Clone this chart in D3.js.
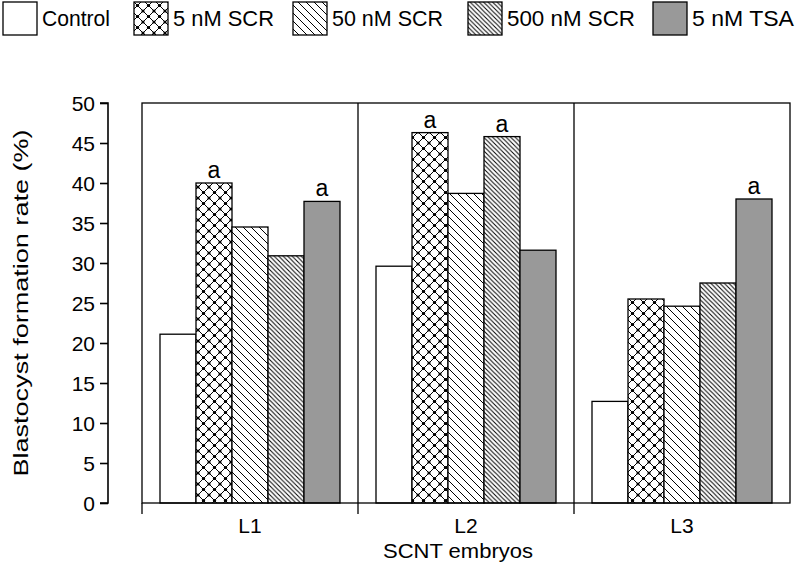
<!DOCTYPE html>
<html><head><meta charset="utf-8">
<script src="https://cdn.jsdelivr.net/npm/d3@7"></script>
<style>body{margin:0;background:#fff}svg{display:block}text{font-family:Arial,"Liberation Sans",sans-serif;fill:#000}</style>
</head><body><svg id="c" width="796" height="578"></svg>
<script>
const groups = ["L1","L2","L3"];
const series = ["Control","5 nM SCR","50 nM SCR","500 nM SCR","5 nM TSA"];
const valuesControl = [21.1, 29.6, 12.7];
const values5SCR   = [40.0, 46.3, 25.5];
const values50SCR  = [34.5, 38.7, 24.6];
const values500SCR = [30.9, 45.8, 27.5];
const valuesTSA    = [37.7, 31.6, 38.0];
const sigLabels = [["","a","","","a"],["","a","","a",""],["","","","","a"]];
const yTicks = [0,5,10,15,20,25,30,35,40,45,50];
const allValues = [valuesControl, values5SCR, values50SCR, values500SCR, valuesTSA];

(function(){
const svg = d3.select("#c");
const defs = svg.append("defs");
const p1 = defs.append("pattern").attr("id","pCross").attr("patternUnits","userSpaceOnUse").attr("width",11).attr("height",11);
p1.append("rect").attr("width",11).attr("height",11).attr("fill","#fff");
p1.append("path").attr("d","M0,0L11,11M11,0L0,11").attr("stroke","#000").attr("stroke-width",1);
[[0,0],[11,0],[0,11],[11,11],[5.5,5.5]].forEach(c=>p1.append("circle").attr("cx",c[0]).attr("cy",c[1]).attr("r",1.6).attr("fill","#000"));
const p2 = defs.append("pattern").attr("id","pDiag").attr("patternUnits","userSpaceOnUse").attr("width",8).attr("height",8);
p2.append("rect").attr("width",8).attr("height",8).attr("fill","#fff");
p2.append("path").attr("d","M-2,-2L10,10M-2,6L2,10M6,-2L10,2").attr("stroke","#000").attr("stroke-width",1);
const p3 = defs.append("pattern").attr("id","pDense").attr("patternUnits","userSpaceOnUse").attr("width",4.5).attr("height",4.5);
p3.append("rect").attr("width",4.5).attr("height",4.5).attr("fill","#fff");
p3.append("path").attr("d","M-1,-1L5.5,5.5M-1,3.5L1,5.5M3.5,-1L5.5,1").attr("stroke","#000").attr("stroke-width",1);
const fills = ["#fff","url(#pCross)","url(#pDiag)","url(#pDense)","#999"];

const L=142, R=790, T=103, B=503;
const y = d3.scaleLinear().domain([0,50]).range([B, T]);
const x0 = d3.scaleBand().domain(groups).range([L,R]);
const x1 = d3.scaleBand().domain(series).range([18, x0.bandwidth()-18]);

groups.forEach((g,gi)=>{
  series.forEach((s,si)=>{
    const v = allValues[si][gi];
    svg.append("rect").attr("x",x0(g)+x1(s)).attr("y",y(v))
      .attr("width",x1.bandwidth()).attr("height",y(0)-y(v))
      .attr("fill",fills[si]).attr("stroke","#000").attr("stroke-width",1.3);
    if(sigLabels[gi][si]) svg.append("text").attr("x",x0(g)+x1(s)+x1.bandwidth()/2).attr("y",y(v)-5)
      .attr("text-anchor","middle").style("font-size","23px").text(sigLabels[gi][si]);
  });
});
svg.append("rect").attr("x",L).attr("y",T).attr("width",R-L).attr("height",B-T)
  .attr("fill","none").attr("stroke","#000").attr("stroke-width",1.3);
groups.slice(1).forEach(g=>{
  svg.append("line").attr("x1",x0(g)).attr("x2",x0(g)).attr("y1",T).attr("y2",B).attr("stroke","#000").attr("stroke-width",1.3);
});
[L, ...groups.slice(1).map(g=>x0(g))].forEach(xx=>{
  svg.append("line").attr("x1",xx).attr("x2",xx).attr("y1",B).attr("y2",514).attr("stroke","#000").attr("stroke-width",1.3);
});
groups.forEach(g=>{
  svg.append("text").attr("x",x0(g)+x0.bandwidth()/2).attr("y",533).attr("text-anchor","middle").style("font-size","21px").text(g);
});
svg.append("text").attr("x",458).attr("y",558).attr("text-anchor","middle").style("font-size","21px")
  .attr("textLength",150).attr("lengthAdjust","spacingAndGlyphs").text("SCNT embryos");

const yAxis = d3.axisLeft(y).tickValues(yTicks).tickSize(8).tickPadding(5);
const ya = svg.append("g").attr("transform","translate(108,0)").call(yAxis);
ya.attr("font-size",null).attr("font-family",null);
ya.selectAll("path").attr("stroke","#000").attr("stroke-width",1.6);
ya.selectAll("line").attr("stroke","#000").attr("stroke-width",1.6);
ya.selectAll("text").style("font-size","21px").attr("dy","0.36em");
ya.select(".domain").attr("d",`M-8,${T}H0V${B}H-8`);
svg.append("text").attr("transform",`translate(28,${(T+B)/2}) rotate(-90)`).attr("text-anchor","middle").style("font-size","20px")
  .attr("textLength",347).attr("lengthAdjust","spacingAndGlyphs").text("Blastocyst formation rate (%)");

const legX = [3,134,293,468,653];
const legW = [68,101,111,128,102];
series.forEach((s,i)=>{
  svg.append("rect").attr("x",legX[i]).attr("y",2).attr("width",34).attr("height",33)
    .attr("fill",fills[i]).attr("stroke","#000").attr("stroke-width",1.3);
  svg.append("text").attr("x",legX[i]+39).attr("y",26).style("font-size","22px")
    .attr("textLength",legW[i]).attr("lengthAdjust","spacingAndGlyphs").text(s);
});
})();
</script></body></html>
